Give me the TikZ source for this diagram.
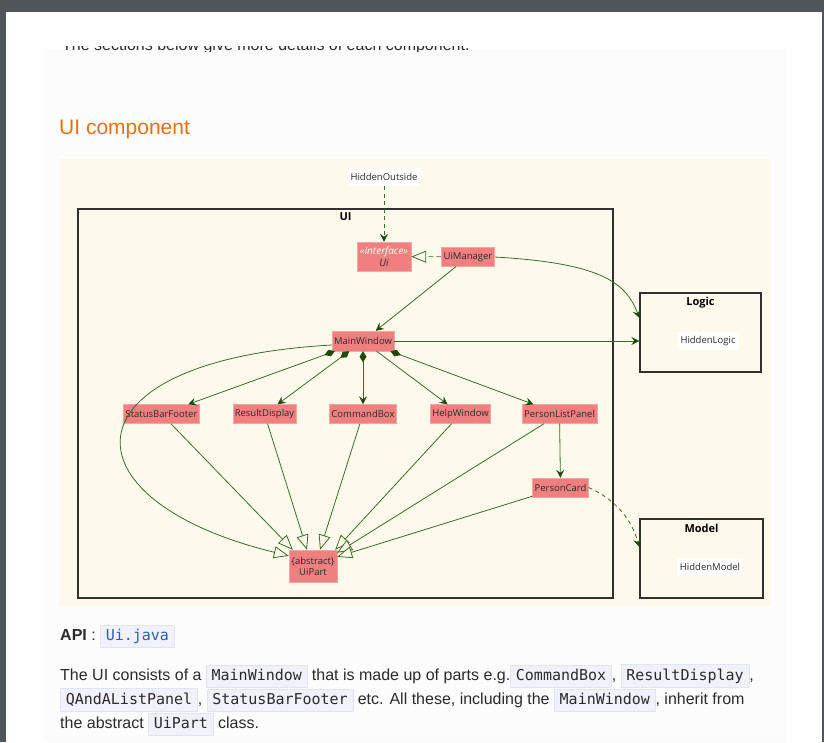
\documentclass[tikz,border=0pt]{standalone}
\usepackage{fontspec}
\setmainfont{Liberation Sans}
\newfontfamily\umlfont{Open Sans}
\newfontfamily\monofont{DejaVu Sans Mono}
\usepackage{xcolor}
\usetikzlibrary{positioning,arrows.meta}
\definecolor{FrameGray}{HTML}{50555A}
\definecolor{PanelGray}{HTML}{FCFCFC}
\definecolor{DiagramBg}{HTML}{FEFAEB}
\definecolor{ClassRed}{HTML}{F08080}
\definecolor{ClassEdge}{HTML}{F4A6A6}
\definecolor{TextDark}{HTML}{2B2B2B}
\definecolor{PkgLine}{HTML}{303030}
\definecolor{EdgeGreen}{HTML}{3A6B2A}
\definecolor{ArrowGreen}{HTML}{1E4A10}
\definecolor{HeadOrange}{HTML}{E8700F}
\definecolor{CodeBg}{HTML}{F0F1FA}
\definecolor{CodeLine}{HTML}{E2E4F0}
\definecolor{LinkBlue}{HTML}{2F5FB3}
\newcommand{\codebox}[1]{{\setlength{\fboxsep}{3.5pt}\setlength{\fboxrule}{0.6pt}\fcolorbox{CodeLine}{CodeBg}{\hspace{1.5pt}\monofont\fontsize{15}{17}\selectfont\vphantom{Ag}#1\hspace{1.5pt}}}}

\begin{document}
\begin{tikzpicture}[
  x=1pt, y=-1pt,
  font=\umlfont\fontsize{9.5}{11}\selectfont,
  cls/.style={fill=ClassRed, draw=ClassEdge, line width=0.4pt, text=TextDark, inner xsep=2pt, inner ysep=0pt, minimum height=19pt, align=center},
  hidden/.style={fill=white, text=TextDark, inner xsep=3pt, inner ysep=0pt, minimum height=18pt},
  pkg/.style={draw=PkgLine, line width=1.3pt, inner sep=0pt},
  pkgtitle/.style={font=\umlfont\bfseries\fontsize{11}{12}\selectfont, text=black, inner sep=1pt},
  assoc/.style={EdgeGreen, line width=0.8pt, -{Stealth[length=8pt, width=8pt, inset=3pt, color=ArrowGreen]}},
  comp/.style={EdgeGreen, line width=0.8pt, {Diamond[length=11pt, width=7pt, color=ArrowGreen]}-{Stealth[length=8pt, width=8pt, inset=3pt, color=ArrowGreen]}},
  dep/.style={assoc, dash pattern=on 4pt off 3.5pt},
  inh/.style={EdgeGreen, line width=0.8pt, -{Triangle[open, fill=DiagramBg, length=15pt, width=12pt, color=EdgeGreen]}},
  real/.style={inh, dash pattern=on 5pt off 3pt},
  body/.style={anchor=base west, inner sep=0pt, font=\fontsize{16}{20}\selectfont, text=TextDark}
]
  \useasboundingbox (0,0) rectangle (824,742);
  % page frame and panel
  \fill[FrameGray] (0,0) rectangle (824,12);
  \fill[FrameGray] (0,0) rectangle (6,742);
  \fill[FrameGray] (822,0) rectangle (824,742);
  \fill[white] (6,12) rectangle (822,742);
  \fill[PanelGray] (44,49) rectangle (786,742);
  \begin{scope}
    \clip (44,46) rectangle (786,51);
    \node[body] (intro) at (62,50.5) {The sections below give more details of each component.};
  \end{scope}
  \node[anchor=base west, inner sep=0pt, font=\fontsize{21}{24}\selectfont, text=HeadOrange] (heading) at (59,134.5) {UI component};

  % diagram area
  \fill[DiagramBg] (59,159) rectangle (771,606);

  % packages
  \node[pkg, minimum width=535pt, minimum height=389pt] (uipkg) at (345.5,403.5) {};
  \node[pkgtitle, below=3pt of uipkg.north] (uititle) {UI};
  \node[pkg, minimum width=121pt, minimum height=79pt] (logic) at (700.5,332.5) {};
  \node[pkgtitle, below=4pt of logic.north] (logictitle) {Logic};
  \node[pkg, minimum width=123pt, minimum height=79pt] (model) at (701.5,558.5) {};
  \node[pkgtitle, below=5pt of model.north] (modeltitle) {Model};

  % hidden placeholders
  \node[hidden] (outside) at (384,177) {HiddenOutside};
  \node[hidden] (hlogic) at (708,341) {HiddenLogic};
  \node[hidden] (hmodel) at (710,567) {HiddenModel};

  % classes
  \node[cls, minimum width=54pt, minimum height=29pt, inner ysep=1pt, font=\umlfont\itshape\fontsize{10}{11.5}\selectfont] (ui) at (384,256.5) {\textcolor{white}{«Interface»}\\Ui};
  \node[cls] (uim) at (468,257) {UiManager};
  \node[cls, minimum height=20pt] (mw) at (363,341) {MainWindow};
  \node[cls] (sbf) at (161.5,414) {StatusBarFooter};
  \node[cls] (rd) at (264.5,414) {ResultDisplay};
  \node[cls] (cb) at (363,414) {CommandBox};
  \node[cls] (hw) at (460.5,414) {HelpWindow};
  \node[cls] (plp) at (559.5,414) {PersonListPanel};
  \node[cls] (pc) at (560.5,487.5) {PersonCard};
  \node[cls, minimum width=48pt, minimum height=32pt, inner ysep=1pt] (up) at (313,566) {\{abstract\}\\UiPart};

  % connectors
  \draw[dep] (outside) -- (ui);
  \draw[real] (uim) -- (ui);
  \draw[assoc] (uim) -- (mw);
  \draw[assoc] (uim.east) .. controls (600,263) and (626,282) .. ([yshift=14.5pt]logic.west);
  \draw[assoc] (mw.east) -- (mw.east -| logic.west);
  \draw[comp] (mw) -- (sbf);
  \draw[comp] (mw) -- (rd);
  \draw[comp] (mw) -- (cb);
  \draw[assoc] (mw) -- (hw);
  \draw[comp] (mw) -- (plp);
  \draw[assoc] (plp) -- (pc);
  \draw[dep] (pc.east) .. controls (610,497) and (630,514) .. ([yshift=11.5pt]model.west);
  \draw[inh] ([yshift=-4pt]mw.west) .. controls (60,360) and (60,500) .. ([yshift=-6pt]up.north west);
  \draw[inh] (sbf) -- ([xshift=4pt]up.north west);
  \draw[inh] (rd) -- ([xshift=-6pt]up.north);
  \draw[inh] (cb) -- ([xshift=7pt]up.north);
  \draw[inh] (hw) -- ([xshift=-2pt]up.north east);
  \draw[inh] (plp) -- ([yshift=-3pt]up.north east);
  \draw[inh] (pc) -- ([yshift=-7pt]up.north east);

  % text below the diagram
  \node[body] (api) at (60,640) {\textbf{API} : \codebox{\textcolor{LinkBlue}{Ui.java}}};
  \node[body] (line1) at (60,680) {The UI consists of a \codebox{MainWindow} that is made up of parts e.g.\codebox{CommandBox}, \codebox{ResultDisplay},};
  \node[body] (line2) at (60,704) {\codebox{QAndAListPanel}, \codebox{StatusBarFooter} etc. All these, including the \codebox{MainWindow}, inherit from};
  \node[body] (line3) at (60,728) {the abstract \codebox{UiPart} class.};
\end{tikzpicture}
\end{document}
